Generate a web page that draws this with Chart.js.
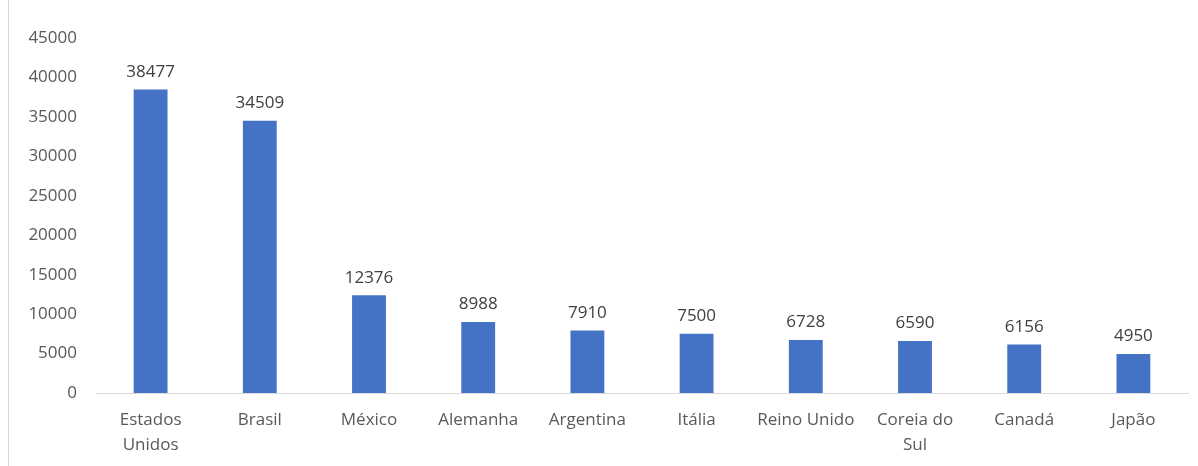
<!DOCTYPE html>
<html>
<head>
<meta charset="utf-8">
<script src="https://cdn.jsdelivr.net/npm/chart.js@4/dist/chart.umd.min.js"></script>
<style>
  html, body { margin: 0; padding: 0; background: #fff; }
  #wrap { width: 1198px; height: 466px; position: relative; }
</style>
</head>
<body>
<div id="wrap"><canvas id="paises"></canvas></div>
<script>
const paises = [["Estados", "Unidos"], "Brasil", "México", "Alemanha", "Argentina", "Itália", "Reino Unido", ["Coreia do", "Sul"], "Canadá", "Japão"];
const valores = [38477, 34509, 12376, 8988, 7910, 7500, 6728, 6590, 6156, 4950];
const yMax = 45000;
const yStep = 5000;

const fonte = "'Open Sans', 'Noto Sans', sans-serif";
const cinza = "#595959";

// borda esquerda do gráfico
const borda = {
    id: "borda",
    beforeDraw(chart) {
        const c = chart.ctx;
        c.save();
        c.strokeStyle = "#d9d9d9";
        c.lineWidth = 1;
        c.beginPath();
        c.moveTo(8.5, 0);
        c.lineTo(8.5, chart.height);
        c.stroke();
        c.restore();
    }
};

// valor em cima de cada barra
const rotulos = {
    id: "rotulos",
    afterDatasetsDraw(chart) {
        const c = chart.ctx;
        const meta = chart.getDatasetMeta(0);
        c.save();
        c.fillStyle = "#404040";
        c.font = "17px " + fonte;
        c.textAlign = "center";
        c.textBaseline = "bottom";
        meta.data.forEach((bar, i) => {
            c.fillText(String(valores[i]), bar.x, bar.y - 9);
        });
        c.restore();
    }
};

new Chart(document.getElementById("paises"), {
    type: "bar",
    data: {
        labels: paises,
        datasets: [{
            data: valores,
            backgroundColor: "#4472C4",
            categoryPercentage: 1,
            barPercentage: 0.31
        }]
    },
    options: {
        responsive: true,
        maintainAspectRatio: false,
        animation: false,
        layout: { padding: { left: 0, right: 10, top: 38, bottom: 0 } },
        plugins: {
            legend: { display: false },
            tooltip: { enabled: false }
        },
        scales: {
            x: {
                grid: { display: false, drawTicks: false },
                border: { color: "#d9d9d9", width: 1 },
                ticks: {
                    color: cinza,
                    font: { family: fonte, size: 17, lineHeight: 1.5 },
                    padding: 14,
                    maxRotation: 0,
                    autoSkip: false
                },
                afterFit(scale) { scale.height = 73; }
            },
            y: {
                min: 0,
                max: yMax,
                grid: { display: false, drawTicks: false },
                border: { display: false },
                ticks: {
                    stepSize: yStep,
                    color: cinza,
                    font: { family: fonte, size: 17 },
                    padding: 19,
                    callback: v => String(v)
                },
                afterFit(scale) { scale.width = 96; }
            }
        }
    },
    plugins: [borda, rotulos]
});
</script>
</body>
</html>
